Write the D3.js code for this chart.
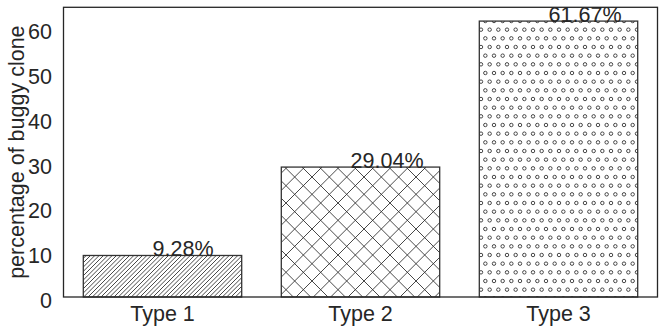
<!DOCTYPE html>
<html>
<head>
<meta charset="utf-8">
<script src="https://cdn.jsdelivr.net/npm/d3@7"></script>
<style>
  body { margin: 0; background: #fff; }
  svg { display: block; }
  text { font-family: "Liberation Sans", Arial, sans-serif; fill: #262626; }
</style>
</head>
<body>
<svg width="664" height="333"></svg>
<script>
// data
const categories = ["Type 1", "Type 2", "Type 3"];
const values = [9.28, 29.04, 61.67];
const valueLabels = ["9.28%", "29.04%", "61.67%"];
const hatches = ["////", "x", "o"];
const yTicks = [0, 10, 20, 30, 40, 50, 60];

const W = 664, H = 333;
const margin = { left: 63.5, right: 6.5, top: 7.3, bottom: 36 };
const svg = d3.select("svg");
const ink = "#262626";

const x = d3.scaleBand()
    .domain(categories)
    .range([margin.left, W - margin.right])
    .paddingInner(0.2)
    .paddingOuter(0.1);

const yMax = d3.max(values) * 1.05;
const y = d3.scaleLinear()
    .domain([0, yMax])
    .range([H - margin.bottom, margin.top]);

// hatch patterns, tile anchored at the bottom-left corner like matplotlib
const U = 52;      // hatch unit in px
const density = 6;
const defs = svg.append("defs");

// u, v in unit coords with v going up
const pt = (u, v) => [u * U, U - v * U];

function addHatch(id, hatch) {
    const pat = defs.append("pattern")
        .attr("id", id)
        .attr("patternUnits", "userSpaceOnUse")
        .attr("x", 0).attr("y", H)
        .attr("width", U).attr("height", U);
    pat.append("rect").attr("width", U).attr("height", U).attr("fill", "#fff");

    let d = "";
    const ne = (hatch.split("/").length - 1) + (hatch.split("x").length - 1);
    const se = (hatch.split("\\").length - 1) + (hatch.split("x").length - 1);
    if (ne) {
        const n = ne * density;
        for (let i = 0; i <= n; i++) {
            const s = -0.5 + i / n;
            const a = pt(s, -s), b = pt(1 + s, 1 - s);
            d += `M${a[0]},${a[1]}L${b[0]},${b[1]}`;
        }
    }
    if (se) {
        const n = se * density;
        for (let i = 0; i <= n; i++) {
            const s = -0.5 + i / n;
            const a = pt(s, 1 + s), b = pt(1 + s, s);
            d += `M${a[0]},${a[1]}L${b[0]},${b[1]}`;
        }
    }
    if (d) {
        pat.append("path").attr("d", d)
            .attr("stroke", "#333").attr("stroke-width", 0.9).attr("fill", "none");
    }

    const no = hatch.split("o").length - 1;
    if (no) {
        const rows = no * density;
        const off = 1 / rows;
        const r = 0.2 * off * U;
        const circles = [];
        for (let row = 0; row <= rows; row++) {
            const cols = row % 2 === 0
                ? d3.range(rows + 1).map(i => i * off)
                : d3.range(rows).map(i => off / 2 + i * off);
            cols.forEach(c => circles.push(pt(c, row * off)));
        }
        pat.selectAll("circle").data(circles).join("circle")
            .attr("cx", p => p[0]).attr("cy", p => p[1]).attr("r", r)
            .attr("fill", "none").attr("stroke", "#333").attr("stroke-width", 0.9);
    }
}
hatches.forEach((h, i) => addHatch("hatch" + i, h));

// bars
svg.selectAll("rect.bar").data(values).join("rect")
    .attr("class", "bar")
    .attr("x", (d, i) => x(categories[i]))
    .attr("y", d => y(d))
    .attr("width", x.bandwidth())
    .attr("height", d => y(0) - y(d))
    .attr("fill", (d, i) => `url(#hatch${i})`)
    .attr("stroke", "#333")
    .attr("stroke-width", 1.3);

// value labels
const step = x.step();
svg.selectAll("text.val").data(values).join("text")
    .attr("class", "val")
    .attr("x", (d, i) => x(categories[i]) + x.bandwidth() / 2 - 0.05 * step)
    .attr("y", d => y(d) + 1)
    .attr("font-size", 21.5)
    .text((d, i) => valueLabels[i]);

// frame
svg.append("rect")
    .attr("x", margin.left).attr("y", margin.top)
    .attr("width", W - margin.right - margin.left)
    .attr("height", y(0) - margin.top)
    .attr("fill", "none").attr("stroke", ink).attr("stroke-width", 1.3);

// y axis
const yAxis = svg.append("g")
    .attr("transform", `translate(${margin.left},0)`)
    .call(d3.axisLeft(y).tickValues(yTicks).tickSize(0).tickPadding(11.5));
yAxis.select(".domain").remove();
yAxis.selectAll("text")
    .attr("font-size", 21.5)
    .attr("dy", "0.48em")
    .style("fill", ink);

// x axis
const xAxis = svg.append("g")
    .attr("transform", `translate(0,${y(0)})`)
    .call(d3.axisBottom(x).tickSize(0).tickPadding(9));
xAxis.select(".domain").remove();
xAxis.selectAll("text")
    .attr("font-size", 21.5)
    .style("fill", ink);

// y label
svg.append("text")
    .attr("transform", `translate(24,${(margin.top + y(0)) / 2}) rotate(-90)`)
    .attr("text-anchor", "middle")
    .attr("font-size", 21.5)
    .text("percentage of buggy clone");
</script>
</body>
</html>
